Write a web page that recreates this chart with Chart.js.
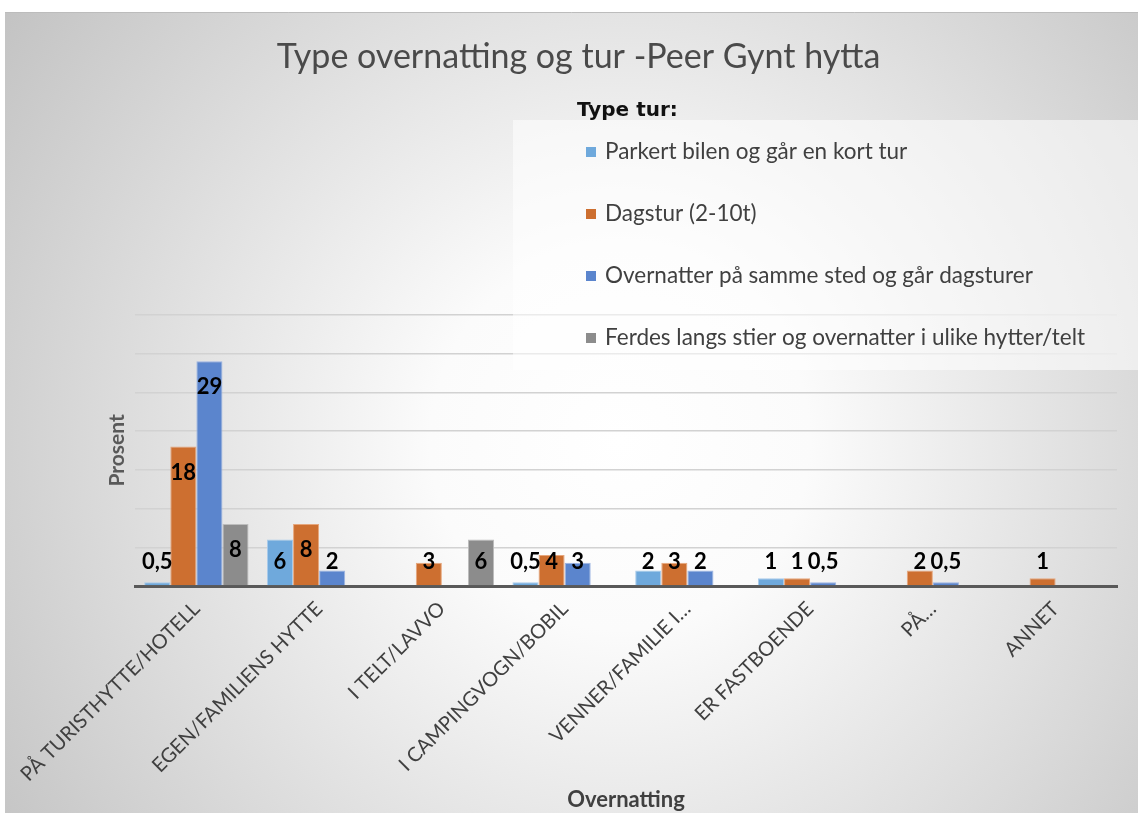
<!DOCTYPE html>
<html>
<head>
<meta charset="utf-8">
<script src="https://cdn.jsdelivr.net/npm/chart.js@4/dist/chart.umd.min.js"></script>
<style>
  html, body { margin: 0; padding: 0; background: #fff; }
  #wrap { width: 1138px; height: 813px; }
</style>
</head>
<body>
<div id="wrap"><canvas id="chart" width="1138" height="813"></canvas></div>
<script>
// --- data ---
const categories = ['PÅ TURISTHYTTE/HOTELL', 'EGEN/FAMILIENS HYTTE', 'I TELT/LAVVO', 'I CAMPINGVOGN/BOBIL',
                    'VENNER/FAMILIE I…', 'ER FASTBOENDE', 'PÅ…', 'ANNET'];
const seriesNames = ['Parkert bilen og går en kort tur', 'Dagstur (2-10t)',
                     'Overnatter på samme sted og går dagsturer', 'Ferdes langs stier og overnatter i ulike hytter/telt'];
const parkert    = [0.5, 6, null, 0.5, 2, 1, null, null];
const dagstur    = [18, 8, 3, 4, 3, 1, 2, 1];
const overnatter = [29, 2, null, 3, 2, 0.5, 0.5, null];
const ferdes     = [8, null, 6, null, null, null, null, null];
const yMin = 0, yMax = 35, yStep = 5;

const colors  = ['#6fa9dc', '#cd6f30', '#5b85cd', '#8c8c8c'];
const borders = ['#a9cbea', '#e6a67c', '#9cb4e2', '#bdbdbd'];
const FONT = 'Lato, "Open Sans", sans-serif';

// gradient background like the Office chart area
const background = {
    id: 'background',
    beforeDraw(chart) {
        const { ctx, width, height } = chart;
        ctx.save();
        ctx.fillStyle = '#fff';
        ctx.fillRect(0, 0, width, height);
        const g = ctx.createRadialGradient(620, 440, 0, 620, 440, 760);
        g.addColorStop(0, '#ffffff');
        g.addColorStop(0.25, '#fbfbfb');
        g.addColorStop(1, '#c2c2c2');
        ctx.fillStyle = g;
        ctx.fillRect(5, 12, width - 5, height - 12);
        ctx.strokeStyle = '#bcbcbc';
        ctx.lineWidth = 1;
        ctx.beginPath();
        ctx.moveTo(5, 12.5);
        ctx.lineTo(width, 12.5);
        ctx.stroke();
        ctx.restore();
    }
};

// value labels, Excel "inside end" style
const valueLabels = {
    id: 'valueLabels',
    afterDatasetsDraw(chart) {
        const { ctx } = chart;
        const base = chart.scales.y.getPixelForValue(0);
        ctx.save();
        ctx.font = 'bold 22px ' + FONT;
        ctx.fillStyle = '#000';
        ctx.textAlign = 'center';
        ctx.textBaseline = 'middle';
        chart.data.datasets.forEach((ds, i) => {
            chart.getDatasetMeta(i).data.forEach((bar, j) => {
                const v = ds.data[j];
                if (v == null) return;
                const y = Math.min(bar.y + 26, base - 24);
                ctx.fillText(String(v).replace('.', ','), bar.x, y);
            });
        });
        ctx.restore();
    }
};

// legend box overlapping the plot, top right
const legendBox = {
    id: 'legendBox',
    afterDraw(chart) {
        const { ctx } = chart;
        ctx.save();
        ctx.fillStyle = 'rgba(255,255,255,0.55)';
        ctx.fillRect(513, 120, 625, 250);
        ctx.font = 'bold 20px "DejaVu Sans", sans-serif';
        ctx.fillStyle = '#111';
        ctx.textBaseline = 'middle';
        ctx.fillText('Type tur:', 577, 111);
        ctx.font = '22.5px ' + FONT;
        chart.data.datasets.forEach((ds, i) => {
            const y = 152 + i * 62;
            ctx.fillStyle = ds.backgroundColor;
            ctx.fillRect(586, y - 5, 10, 10);
            ctx.fillStyle = '#404040';
            ctx.fillText(ds.label, 605, y);
        });
        ctx.restore();
    }
};

const series = [parkert, dagstur, overnatter, ferdes];

new Chart(document.getElementById('chart'), {
    type: 'bar',
    data: {
        labels: categories,
        datasets: series.map((d, i) => ({
            label: seriesNames[i],
            data: d,
            backgroundColor: colors[i],
            borderColor: borders[i],
            borderWidth: 1,
            categoryPercentage: 0.85,
            barPercentage: 1
        }))
    },
    options: {
        responsive: false,
        animation: false,
        layout: { padding: { top: 12, left: 40, right: 21, bottom: 0 } },
        plugins: {
            legend: { display: false },
            tooltip: { enabled: false },
            title: {
                display: true,
                text: 'Type overnatting og tur -Peer Gynt hytta',
                color: '#4a4a4a',
                font: { family: FONT, size: 34, weight: 'normal' },
                padding: { top: 25, bottom: 237 }
            }
        },
        scales: {
            x: {
                grid: { display: false },
                border: { color: '#595959', width: 3 },
                ticks: {
                    color: '#404040',
                    font: { family: FONT, size: 20 },
                    minRotation: 45,
                    maxRotation: 45,
                    autoSkip: false
                },
                title: {
                    display: true,
                    text: 'Overnatting',
                    color: '#404040',
                    font: { family: FONT, size: 22, weight: 'bold' },
                    padding: { top: 0, bottom: 0 }
                },
                afterFit(scale) { scale.height = 227; }
            },
            y: {
                min: yMin,
                max: yMax,
                ticks: { display: false, stepSize: yStep },
                grid: { color: '#d2d2d2', lineWidth: 1.5, drawTicks: false },
                border: { display: false },
                title: {
                    display: true,
                    text: 'Prosent',
                    color: '#595959',
                    font: { family: FONT, size: 21, weight: 'bold' },
                    padding: { top: 65, bottom: 0 }
                },
                afterFit(scale) { scale.width = 95; }
            }
        }
    },
    plugins: [background, valueLabels, legendBox]
});
</script>
</body>
</html>
